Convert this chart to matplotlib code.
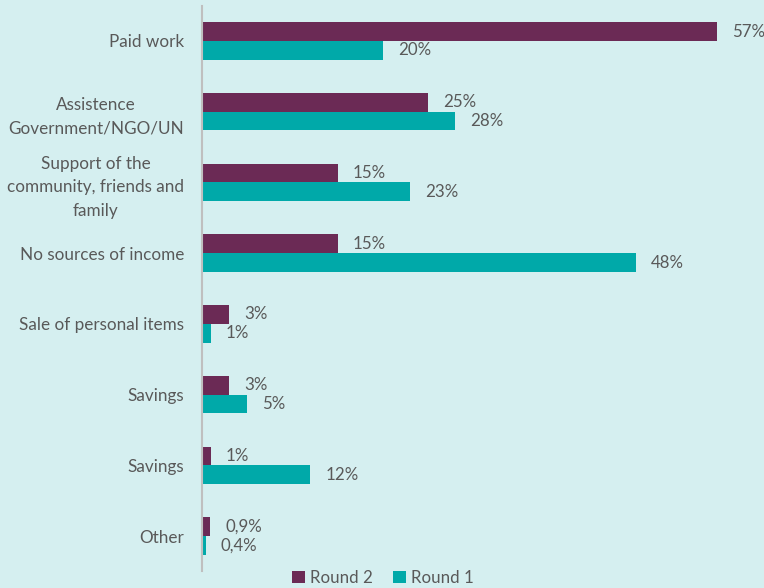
import matplotlib.pyplot as plt
import numpy as np

categories = ["Paid work", "Assistence\nGovernment/NGO/UN",
              "Support of the\ncommunity, friends and\nfamily",
              "No sources of income", "Sale of personal items",
              "Savings", "Savings", "Other"]
round2 = [57, 25, 15, 15, 3, 3, 1, 0.9]
round1 = [20, 28, 23, 48, 1, 5, 12, 0.4]
labels2 = ["57%", "25%", "15%", "15%", "3%", "3%", "1%", "0,9%"]
labels1 = ["20%", "28%", "23%", "48%", "1%", "5%", "12%", "0,4%"]

bg = "#d5eff0"
c2 = "#6b2a55"
c1 = "#00a9a9"
txt = "#595959"

plt.rcParams['font.family'] = ['Lato', 'DejaVu Sans']

fig = plt.figure(figsize=(7.64, 5.88), dpi=100, facecolor=bg)
ax = fig.add_axes([202 / 764, 16.6 / 588, 542 / 764, 565.8 / 588])
ax.set_facecolor(bg)

y = np.arange(len(categories))
h = 0.265
ax.barh(y - h / 2, round2, height=h, color=c2, label="Round 2")
ax.barh(y + h / 2, round1, height=h, color=c1, label="Round 1")

for i in range(len(categories)):
    ax.annotate(labels2[i], (round2[i], y[i] - h / 2), xytext=(15, 0),
                textcoords="offset pixels", va="center", ha="left",
                fontsize=12.2, color=txt)
    ax.annotate(labels1[i], (round1[i], y[i] + h / 2), xytext=(15, 0),
                textcoords="offset pixels", va="center", ha="left",
                fontsize=12.2, color=txt)

ax.set_xlim(0, 60)
ax.set_ylim(len(categories) - 0.5, -0.5)
ax.set_yticks(y)
ax.set_yticklabels(categories, fontsize=12.3, color=txt,
                   multialignment="center", linespacing=1.55)
ax.tick_params(axis="y", length=0, pad=13)
ax.set_xticks([])
for s in ["top", "right", "bottom"]:
    ax.spines[s].set_visible(False)
ax.spines["left"].set_color("#bfbfbf")
ax.spines["left"].set_linewidth(1.5)

ax.legend(loc="center", bbox_to_anchor=(383 / 764, 10 / 588),
          bbox_transform=fig.transFigure, ncol=2, frameon=False,
          fontsize=12.2, handlelength=0.75, handleheight=0.75,
          handletextpad=0.3, columnspacing=1.2, labelcolor=txt)

fig.savefig("out.png", dpi=100, facecolor=bg)
